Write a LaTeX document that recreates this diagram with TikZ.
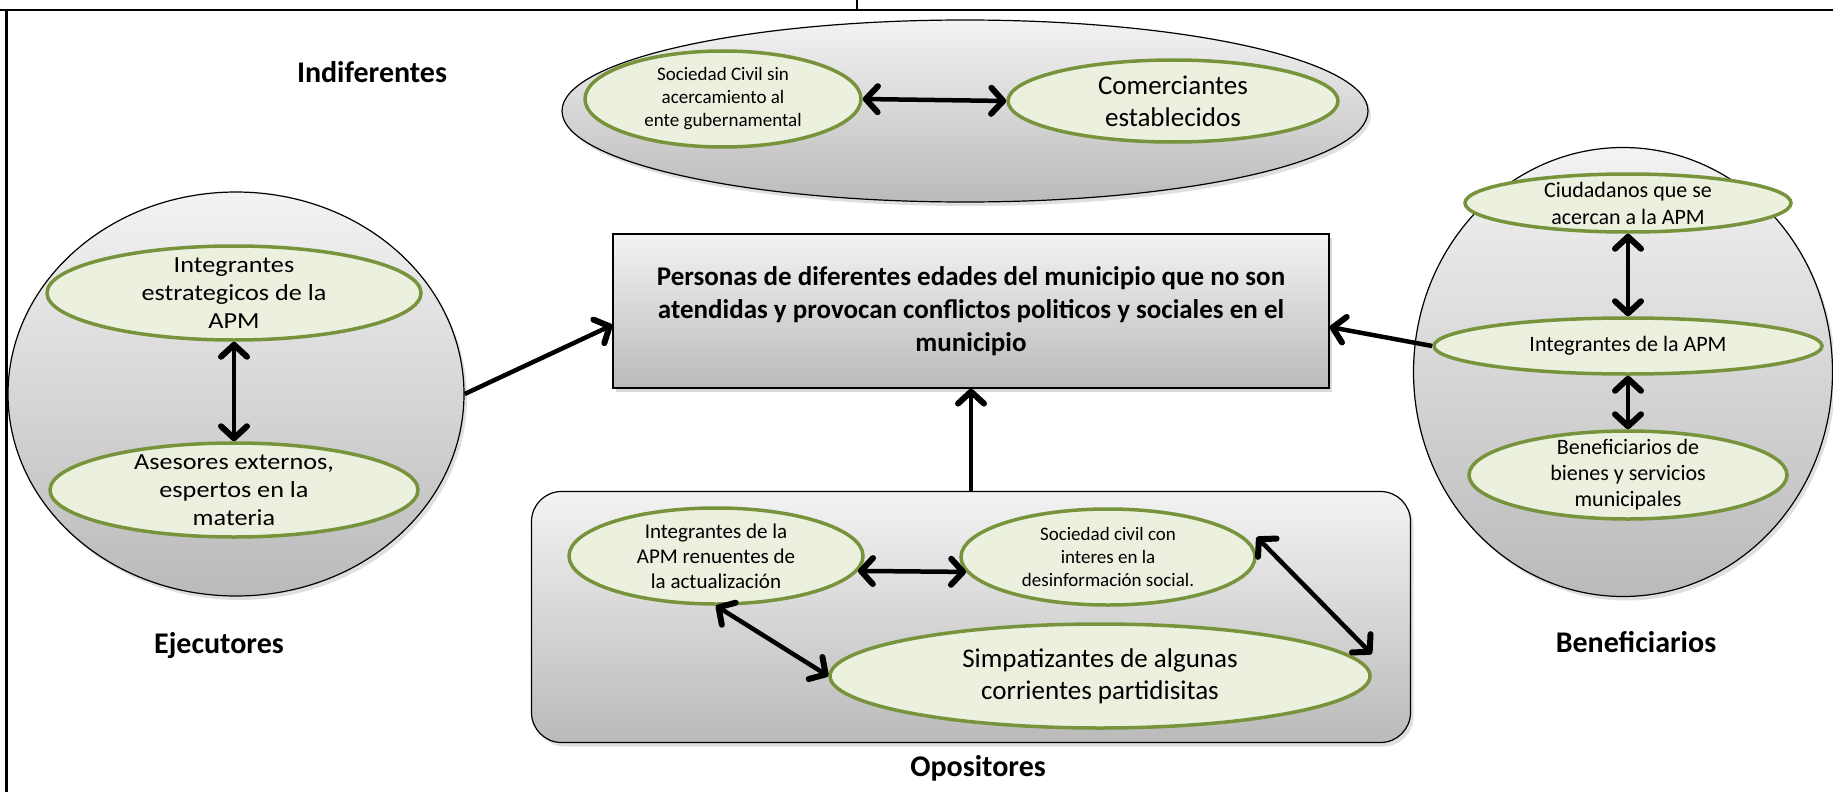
\documentclass[tikz,border=0pt]{standalone}
\usepackage{fontspec}
\setmainfont{Carlito}
\newfontfamily\widefont[FakeStretch=1.14]{Carlito}
\definecolor{olvline}{RGB}{119,147,60}
\definecolor{olvfill}{RGB}{235,241,222}
\definecolor{grytop}{RGB}{243,243,243}
\definecolor{grybot}{RGB}{186,186,186}
\usetikzlibrary{arrows.meta,positioning,shapes.geometric,shadows}

\begin{document}
\begin{tikzpicture}[x=1pt,y=-1pt,
  grp/.style={draw=black,line width=1.2pt,top color=grytop,bottom color=grybot,
    drop shadow={shadow xshift=3pt,shadow yshift=-4pt,opacity=0.25}},
  ell/.style={ellipse,draw=olvline,line width=3.5pt,fill=olvfill,inner sep=0pt},
  inset/.style={align=center,inner sep=0pt},
  tag/.style={font=\fontsize{30}{36}\selectfont\bfseries},
  link/.style={line width=4.5pt,
    {Straight Barb[length=12pt,width=26pt,line width=6pt,round]}-{Straight Barb[length=12pt,width=26pt,line width=6pt,round]}},
  feed/.style={line width=4.5pt,-{Straight Barb[length=12pt,width=26pt,line width=6pt,round]}}]
  \useasboundingbox (0,0) rectangle (1833,792);
  %% Frame lines
  \draw[line width=2.5pt] (0,10) -- (1833,10);
  \draw[line width=3pt] (6,10) -- (6,792);
  \draw[line width=1.5pt] (857,0) -- (857,10);
  %% Indiferentes
  \node[grp,ellipse,minimum width=806pt,minimum height=182pt] (ind) at (965,111) {};
  \node[ell,minimum width=276pt,minimum height=96pt,
        label={[inset,font=\fontsize{19}{23}\selectfont]center:{Sociedad Civil sin\\acercamiento al\\ente gubernamental}}]
        (soc) at (723,99) {};
  \node[ell,minimum width=330pt,minimum height=82pt,
        label={[inset,font=\fontsize{27}{32}\selectfont]center:{Comerciantes\\establecidos}}]
        (com) at (1173,101) {};
  \node[tag] (tind) at (372,72) {Indiferentes};
  %% Ejecutores
  \node[grp,ellipse,minimum width=456pt,minimum height=404pt] (eje) at (236,394) {};
  \node[ell,minimum width=374pt,minimum height=94pt,
        label={[inset,font=\widefont\fontsize{23}{28}\selectfont]center:{Integrantes\\estrategicos de la\\APM}}]
        (estr) at (234,293) {};
  \node[ell,minimum width=368pt,minimum height=94pt,
        label={[inset,font=\widefont\fontsize{23}{28}\selectfont]center:{Asesores externos,\\espertos en la\\materia}}]
        (ases) at (234,490) {};
  \node[tag] (teje) at (219,646) {Ejecutores};
  %% Beneficiarios
  \node[grp,ellipse,minimum width=419pt,minimum height=449pt] (ben) at (1623,372) {};
  \node[ell,minimum width=326pt,minimum height=58pt,
        label={[inset,font=\fontsize{22}{27}\selectfont]center:{Ciudadanos que se\\acercan a la APM}}]
        (cit) at (1628,203) {};
  \node[ell,minimum width=388pt,minimum height=56pt,
        label={[inset,font=\fontsize{22}{27}\selectfont]center:{Integrantes de la APM}}]
        (intB) at (1628,346) {};
  \node[ell,minimum width=318pt,minimum height=88pt,
        label={[inset,font=\fontsize{22}{26}\selectfont]center:{Beneficiarios de\\bienes y servicios\\municipales}}]
        (benef) at (1628,475) {};
  \node[tag] (tben) at (1636,642) {Beneficiarios};
  %% Central problem
  \node[draw=black,line width=1.2pt,top color=grytop,bottom color=grybot,
        drop shadow={shadow xshift=3pt,shadow yshift=-4pt,opacity=0.3},
        minimum width=716pt,minimum height=154pt,align=center,
        font=\fontsize{27}{33}\selectfont\bfseries]
        (main) at (971,311)
        {Personas de diferentes edades del municipio que no son\\
         atendidas y provocan conflictos politicos y sociales en el\\
         municipio};
  %% Opositores
  \node[grp,rounded corners=30pt,minimum width=879pt,minimum height=251pt] (opp) at (971,617) {};
  \node[ell,minimum width=294pt,minimum height=96pt,
        label={[inset,font=\fontsize{21}{25}\selectfont]center:{Integrantes de la\\APM renuentes de\\la actualización}}]
        (ren) at (716,556) {};
  \node[ell,minimum width=294pt,minimum height=96pt,
        label={[inset,font=\fontsize{19}{23}\selectfont]center:{Sociedad civil con\\interes en la\\desinformación social.}}]
        (desi) at (1108,557) {};
  \node[ell,minimum width=540pt,minimum height=104pt,
        label={[inset,font=\fontsize{27}{32}\selectfont]center:{Simpatizantes de algunas\\corrientes partidisitas}}]
        (simp) at (1100,676) {};
  \node[tag] (topp) at (978,768) {Opositores};
  %% Connectors
  \draw[link] (soc.east) -- (com.west);
  \draw[link] (estr.south) -- (ases.north);
  \draw[link] (cit.south) -- (intB.north);
  \draw[link] (intB.south) -- (benef.north);
  \draw[link] (ren.-6) -- (desi.186);
  \draw[link] (ren.south) -- (simp.west);
  \draw[link] ([yshift=20pt]desi.east) -- ([yshift=22pt]simp.east);
  \draw[feed] (eje.east) -- ([yshift=-14pt]main.west);
  \draw[feed] (intB.west) -- ([yshift=-16pt]main.east);
  \draw[feed] (opp.north) -- (main.south);
\end{tikzpicture}
\end{document}
